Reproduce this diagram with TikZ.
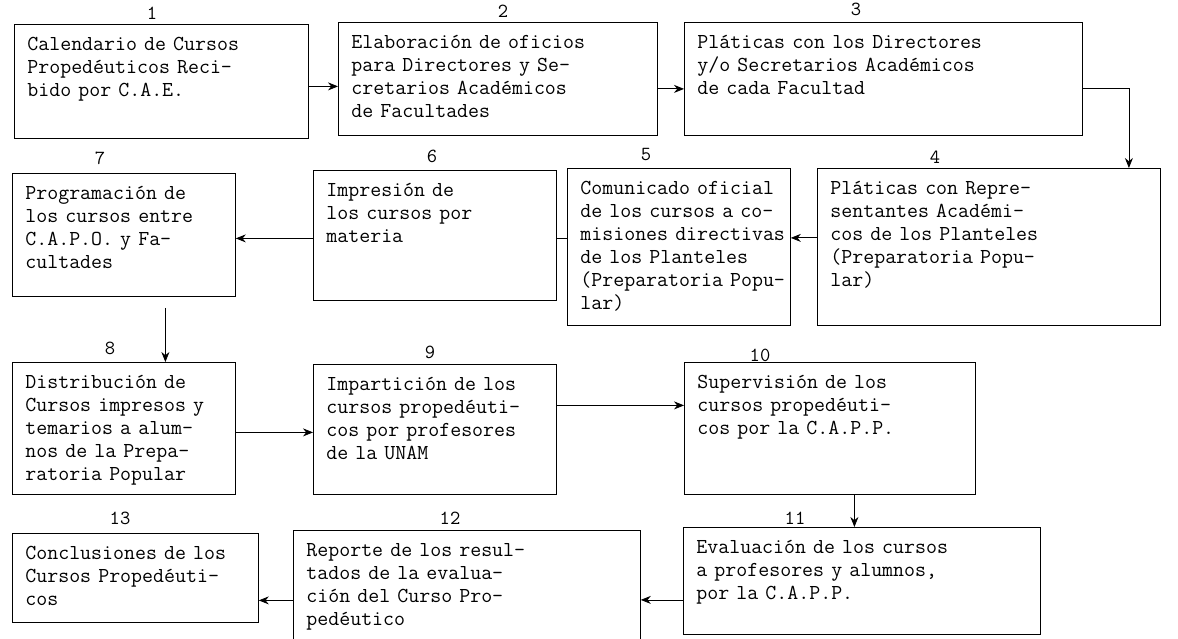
\documentclass[tikz,border=0pt]{standalone}
\usepackage{fontspec}
\usepackage{tikz}
\usetikzlibrary{arrows.meta}
\def\boxfont{\ttfamily\fontsize{21.3pt}{23pt}\selectfont}
\def\numfont{\ttfamily\fontsize{20pt}{22pt}\selectfont}
\tikzset{
	stepbox/.style={draw, line width=0.8pt, anchor=north west, inner sep=0pt, align=left,
		font=\boxfont, text height=26pt,
		execute at begin node={\leftskip=13pt\rightskip=-2em plus 1fil}},
	stepnum/.style={font=\numfont, inner sep=0pt},
	flow/.style={line width=0.8pt, -{Stealth[length=10pt,width=8pt]}}
}

\begin{document}
\begin{tikzpicture}[x=1pt, y=-1pt]
			%%%%% START %%%%%
			\useasboundingbox (0, 0) rectangle (1178, 639);
			
			% first row
			\node[stepbox, text width=294pt, text depth=88pt] (b1) at (14, 24) {Calendario de Cursos\\Propedéuticos Reci-\\bido por C.A.E.};
			\node[stepbox, text width=319pt, text depth=87pt] (b2) at (338, 22) {Elaboración de oficios\\para Directores y Se-\\cretarios Académicos\\de Facultades};
			\node[stepbox, text width=398pt, text depth=87pt] (b3) at (684, 22) {Pláticas con los Directores\\y/o Secretarios Académicos\\de cada Facultad};
			\node[stepnum] (n1) at (152, 13) {1};
			\node[stepnum] (n2) at (503, 11) {2};
			\node[stepnum] (n3) at (856, 9) {3};
			
			% second row
			\node[stepbox, text width=223pt, text depth=97pt] (b7) at (12, 173) {Programación de\\los cursos entre\\C.A.P.O. y Fa-\\cultades};
			\node[stepbox, text width=243pt, text depth=104pt] (b6) at (313, 170) {Impresión de\\los cursos por\\materia};
			\node[stepbox, text width=223pt, text depth=131pt] (b5) at (567, 168) {Comunicado oficial\\de los cursos a co-\\misiones directivas\\de los Planteles\\(Preparatoria Popu-\\lar)};
			\node[stepbox, text width=343pt, text depth=131pt] (b4) at (817, 168) {Pláticas con Repre-\\sentantes Académi-\\cos de los Planteles\\(Preparatoria Popu-\\lar)};
			\node[stepnum] (n7) at (100, 158) {7};
			\node[stepnum] (n6) at (432, 156) {6};
			\node[stepnum] (n5) at (646, 155) {5};
			\node[stepnum] (n4) at (935, 157) {4};
			
			% third row
			\node[stepbox, text width=223pt, text depth=106pt] (b8) at (12, 362) {Distribución de\\Cursos impresos y\\temarios a alum-\\nos de la Prepa-\\ratoria Popular};
			\node[stepbox, text width=243pt, text depth=104pt] (b9) at (313, 364) {Impartición de los\\cursos propedéuti-\\cos por profesores\\de la UNAM};
			\node[stepbox, text width=291pt, text depth=106pt] (b10) at (684, 362) {Supervisión de los\\cursos propedéuti-\\cos por la C.A.P.P.};
			\node[stepnum] (n8) at (110, 348) {8};
			\node[stepnum] (n9) at (430, 352) {9};
			\node[stepnum] (n10) at (760, 355) {10};
			
			% last row
			\node[stepbox, text width=246pt, text depth=63pt] (b13) at (12, 533) {Conclusiones de los\\Cursos Propedéuti-\\cos};
			\node[stepbox, text width=347pt, text depth=86pt] (b12) at (293, 530) {Reporte de los resul-\\tados de la evalua-\\ción del Curso Pro-\\pedéutico};
			\node[stepbox, text width=357pt, text depth=81pt] (b11) at (683, 527) {Evaluación de los cursos\\a profesores y alumnos,\\por la C.A.P.P.};
			\node[stepnum] (n13) at (120, 518) {13};
			\node[stepnum] (n12) at (450, 518) {12};
			\node[stepnum] (n11) at (795, 518) {11};
			
			% connectors
			\draw[flow] ([yshift=-5pt]b1.east) -- ([yshift=-5pt]b1.east -| b2.west);
			\draw[flow] ([yshift=-10pt]b2.east) -- ([yshift=-10pt]b2.east -| b3.west);
			\draw[flow] ([yshift=-10pt]b3.east) -| ([xshift=140pt]b4.north);
			\draw[flow] ([yshift=9pt]b4.west) -- ([yshift=9pt]b4.west -| b5.east);
			\draw[line width=0.8pt] ([yshift=8pt]b5.west) -- ([yshift=8pt]b5.west -| b6.east);
			\draw[flow] ([yshift=-3pt]b6.west) -- ([yshift=-3pt]b6.west -| b7.east);
			\draw[flow, shorten <=11pt] ([xshift=41.5pt]b7.south) -- ([xshift=41.5pt]b7.south |- b8.north);
			\draw[flow] ([yshift=-4pt]b8.east) -- ([yshift=-4pt]b8.east -| b9.west);
			\draw[flow] ([yshift=24pt]b9.east) -- ([yshift=24pt]b9.east -| b10.west);
			\draw[flow] ([xshift=24.5pt]b10.south) -- ([xshift=24.5pt]b10.south |- b11.north);
			\draw[flow] ([yshift=-19pt]b11.west) -- ([yshift=-19pt]b11.west -| b12.east);
			\draw[flow] ([yshift=-14pt]b12.west) -- ([yshift=-14pt]b12.west -| b13.east);
			
			%%%%% END %%%%%
\end{tikzpicture}
\end{document}
